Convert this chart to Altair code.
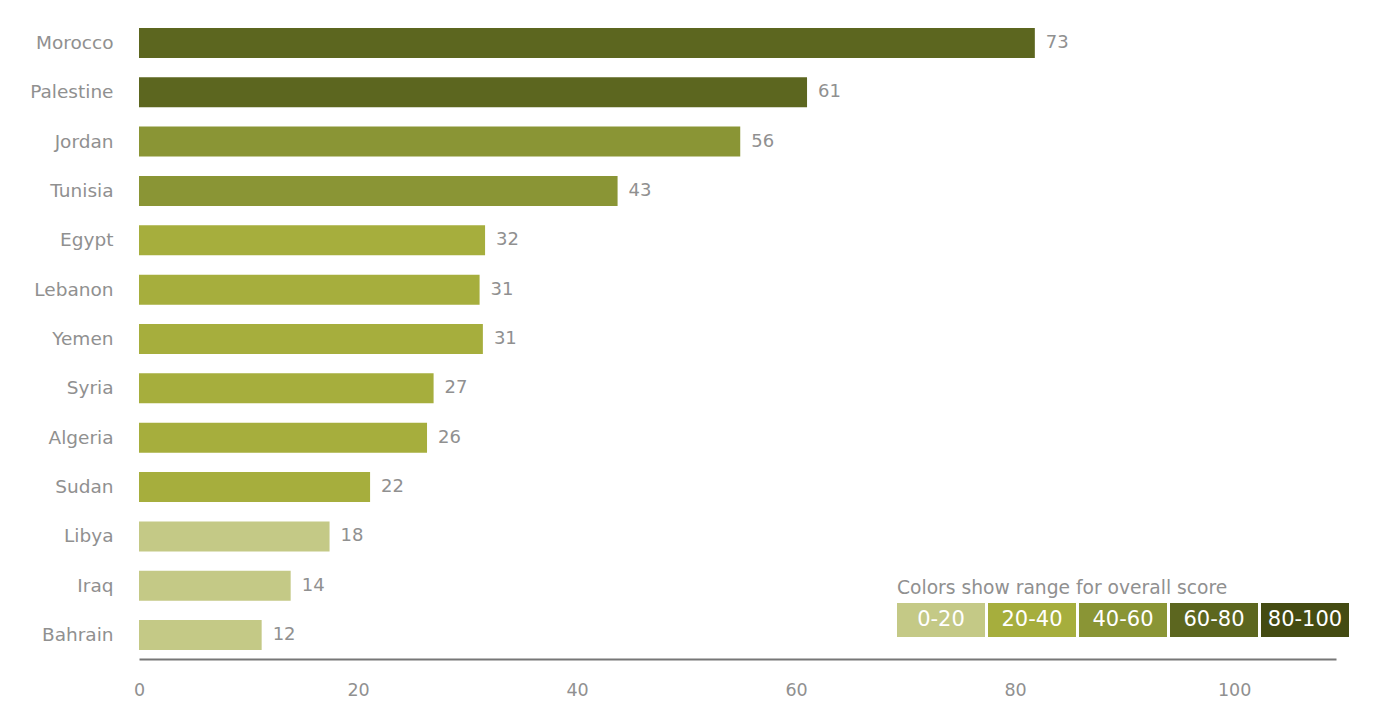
import altair as alt
import pandas as pd

countries = ["Morocco", "Palestine", "Jordan", "Tunisia", "Egypt", "Lebanon", "Yemen",
             "Syria", "Algeria", "Sudan", "Libya", "Iraq", "Bahrain"]
bar_values = [81.8, 61.0, 54.9, 43.7, 31.6, 31.1, 31.4, 26.9, 26.3, 21.1, 17.4, 13.85, 11.2]
label_values = [73, 61, 56, 43, 32, 31, 31, 27, 26, 22, 18, 14, 12]
ranges = ["0-20", "20-40", "40-60", "60-80", "80-100"]
range_colors = ["#c4c986", "#a6ae3d", "#8a9535", "#5c661f", "#444b12"]
x_ticks = [0, 20, 40, 60, 80, 100]
legend_title = "Colors show range for overall score"

def to_range(v):
    lo = int(v // 20) * 20
    return f"{lo}-{lo + 20}"

df = pd.DataFrame({
    "country": countries,
    "value": bar_values,
    "label": [str(v) for v in label_values],
    "range": [to_range(v) for v in label_values],
})
leg = pd.DataFrame({"range": ranges})

FONT = "DejaVu Sans"
GRAY = "#909090"

color = alt.Color("range:N", scale=alt.Scale(domain=ranges, range=range_colors), legend=None)

xq = alt.X("value:Q",
           scale=alt.Scale(domain=[0, 109.3], nice=False, zero=True),
           axis=alt.Axis(values=x_ticks, title=None, grid=False, ticks=False,
                         domain=True, domainColor="#777777", domainWidth=2,
                         labelColor=GRAY, labelFontSize=17.5, labelFont=FONT,
                         labelPadding=22, labelFlush=False))
yb = alt.Y("country:N", sort=countries,
           scale=alt.Scale(paddingInner=0.392, paddingOuter=0.18),
           axis=alt.Axis(title=None, ticks=False, domain=False, labelColor=GRAY,
                         labelFontSize=18.5, labelFont=FONT, labelPadding=26))

bars = alt.Chart(df).mark_bar().encode(x=xq, y=yb, color=color)
vals = alt.Chart(df).mark_text(align="left", baseline="middle", dx=11, fontSize=18,
                               font=FONT, color=GRAY).encode(
    x="value:Q", y=alt.Y("country:N", sort=countries), text="label:N")
main = alt.layer(bars, vals)

xl = alt.X("range:N", sort=ranges,
           scale=alt.Scale(range=[758, 1210], paddingInner=0.033, paddingOuter=0),
           axis=None)
leg_rect = alt.Chart(leg).mark_rect().encode(
    x=xl, y=alt.value(584), y2=alt.value(618), color=color)
leg_text = alt.Chart(leg).mark_text(color="white", fontSize=21, font=FONT,
                                    baseline="middle", align="center").encode(
    x=xl, y=alt.value(601), text="range:N")
leg_title = alt.Chart(pd.DataFrame({"t": [legend_title]})).mark_text(
    align="left", baseline="middle", fontSize=18.7, font=FONT, color=GRAY).encode(
    x=alt.value(758), y=alt.value(569), text="t:N")
legend = alt.layer(leg_rect, leg_text, leg_title)

chart = alt.layer(main, legend).resolve_scale(x="independent").properties(
    width=1197, height=640,
    autosize=alt.AutoSizeParams(type="none"),
    padding={"left": 131, "top": 11, "right": 40, "bottom": 40},
).configure_view(stroke=None)

chart.save("out.html", embed_options={"renderer": "svg", "actions": False})
